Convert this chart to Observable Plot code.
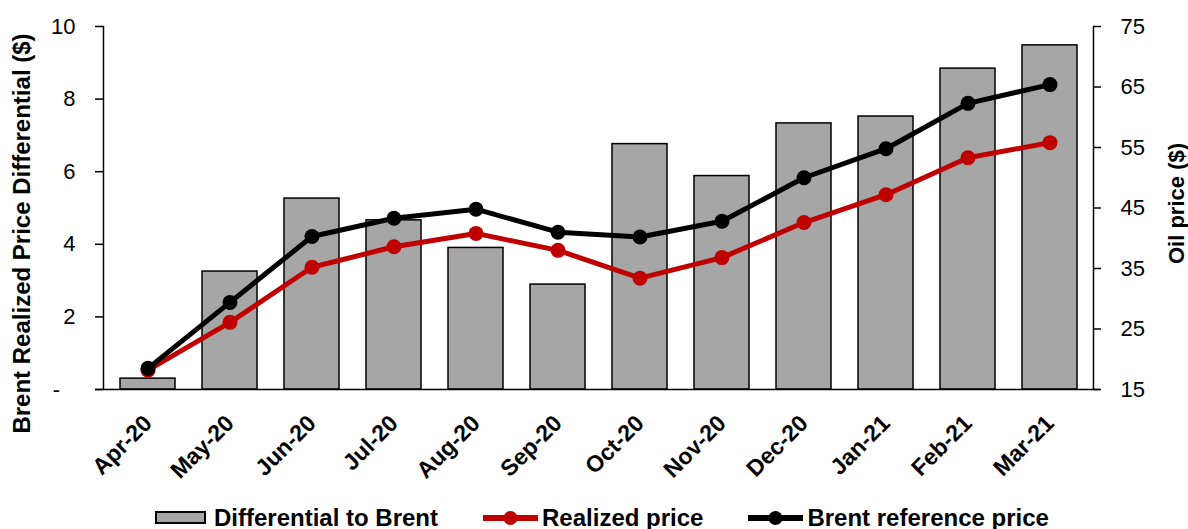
<!DOCTYPE html>
<html>
<head>
<meta charset="utf-8">
<script src="https://cdn.jsdelivr.net/npm/d3@7"></script>
<script src="https://cdn.jsdelivr.net/npm/@observablehq/plot@0.6"></script>
<style>
  html, body { margin: 0; padding: 0; background: #fff; overflow: hidden; }
  body { width: 1188px; height: 529px; font-family: "Liberation Sans", Arial, sans-serif; }
  #legend { height: 39px; box-sizing: border-box; padding-top: 16px; padding-left: 155px; display: flex; align-items: center; font-weight: bold; font-size: 24px; line-height: 24px; color: #000; white-space: nowrap; }
  #legend .sw-bar { width: 47px; height: 9px; background: #a6a6a6; border: 2px solid #000; margin-right: 8px; }
  #legend svg { display: block; margin-right: 3px; }
  #legend .gap { width: 44px; }
</style>
</head>
<body>
<div id="chart"></div>
<div id="legend"></div>
<script>
const months = ["Apr-20","May-20","Jun-20","Jul-20","Aug-20","Sep-20","Oct-20","Nov-20","Dec-20","Jan-21","Feb-21","Mar-21"];
const differential = [0.30, 3.25, 5.26, 4.66, 3.90, 2.89, 6.76, 5.88, 7.33, 7.52, 8.84, 9.48];
const realizedPrice = [18.2, 26.1, 35.2, 38.6, 40.8, 38.0, 33.4, 36.8, 42.6, 47.2, 53.3, 55.8];
const brentPrice = [18.5, 29.4, 40.3, 43.3, 44.8, 41.0, 40.2, 42.8, 50.0, 54.8, 62.3, 65.4];
const leftTicks = [0, 2, 4, 6, 8, 10];
const rightTicks = [15, 25, 35, 45, 55, 65, 75];
const leftTitle = "Brent Realized Price Differential ($)";
const rightTitle = "Oil price ($)";
const seriesNames = ["Differential to Brent", "Realized price", "Brent reference price"];

const red = "#c00000";
const gray = "#a6a6a6";
// map right axis (15..75) onto left axis (0..10)
const toLeft = v => (v - 15) / 6;
const fromLeft = d => Math.round(d * 6 + 15);

const rows = months.map((m, i) => ({month: m, diff: differential[i], realized: realizedPrice[i], brent: brentPrice[i]}));

const chart = Plot.plot({
  width: 1188,
  height: 490,
  marginTop: 26,
  marginBottom: 101,
  marginLeft: 103,
  marginRight: 95,
  style: {fontFamily: '"Liberation Sans", Arial, sans-serif', fontSize: "22px", color: "#000", background: "#fff"},
  x: {type: "band", domain: months, paddingInner: 0.33, paddingOuter: 0.165},
  y: {domain: [0, 10]},
  marks: [
    Plot.barY(rows, {x: "month", y: "diff", fill: gray, stroke: "#000", strokeWidth: 1.5}),
    Plot.line(rows, {x: "month", y: d => toLeft(d.realized), stroke: red, strokeWidth: 5}),
    Plot.dot(rows, {x: "month", y: d => toLeft(d.realized), r: 7.5, fill: red}),
    Plot.line(rows, {x: "month", y: d => toLeft(d.brent), stroke: "#000", strokeWidth: 5}),
    Plot.dot(rows, {x: "month", y: d => toLeft(d.brent), r: 7.5, fill: "#000"}),
    Plot.frame({anchor: "left", stroke: "#000", strokeWidth: 1.5}),
    Plot.frame({anchor: "right", stroke: "#000", strokeWidth: 1.5}),
    Plot.ruleY([0], {stroke: "#000", strokeWidth: 1.5, insetLeft: -8, insetRight: -7}),
    Plot.axisY({anchor: "left", ticks: leftTicks, tickSize: 8, tickPadding: 20, strokeWidth: 1.5,
      tickFormat: d => d === 0 ? "-\u2002\u2009" : String(d), label: null}),
    Plot.axisY({anchor: "right", ticks: rightTicks.map(toLeft), tickSize: 7, tickPadding: 20, strokeWidth: 1.5,
      tickFormat: d => String(fromLeft(d)), label: null}),
    Plot.axisX({anchor: "bottom", tickSize: 0, tickPadding: 30, tickRotate: -45, fontWeight: "bold", fontSize: 23, label: null}),
    Plot.text([leftTitle], {text: d => d, frameAnchor: "left", textAnchor: "middle", lineAnchor: "middle", rotate: -90, dx: -81, dy: 25.5, fontSize: 24, fontWeight: "bold"}),
    Plot.text([rightTitle], {text: d => d, frameAnchor: "right", textAnchor: "middle", lineAnchor: "middle", rotate: -90, dx: 83, dy: -4.5, fontSize: 22, fontWeight: "bold"})
  ]
});
document.getElementById("chart").appendChild(chart);

const legend = document.getElementById("legend");
const lineSwatch = c => `<svg width="57" height="16" viewBox="0 0 57 16"><line x1="1" y1="8" x2="56" y2="8" stroke="${c}" stroke-width="6"/><circle cx="28.5" cy="8" r="7" fill="${c}"/></svg>`;
legend.innerHTML =
  `<span class="sw-bar"></span><span>${seriesNames[0]}</span><span class="gap"></span>` +
  `${lineSwatch(red)}<span>${seriesNames[1]}</span><span class="gap"></span>` +
  `${lineSwatch("#000")}<span>${seriesNames[2]}</span>`;
</script>
</body>
</html>
